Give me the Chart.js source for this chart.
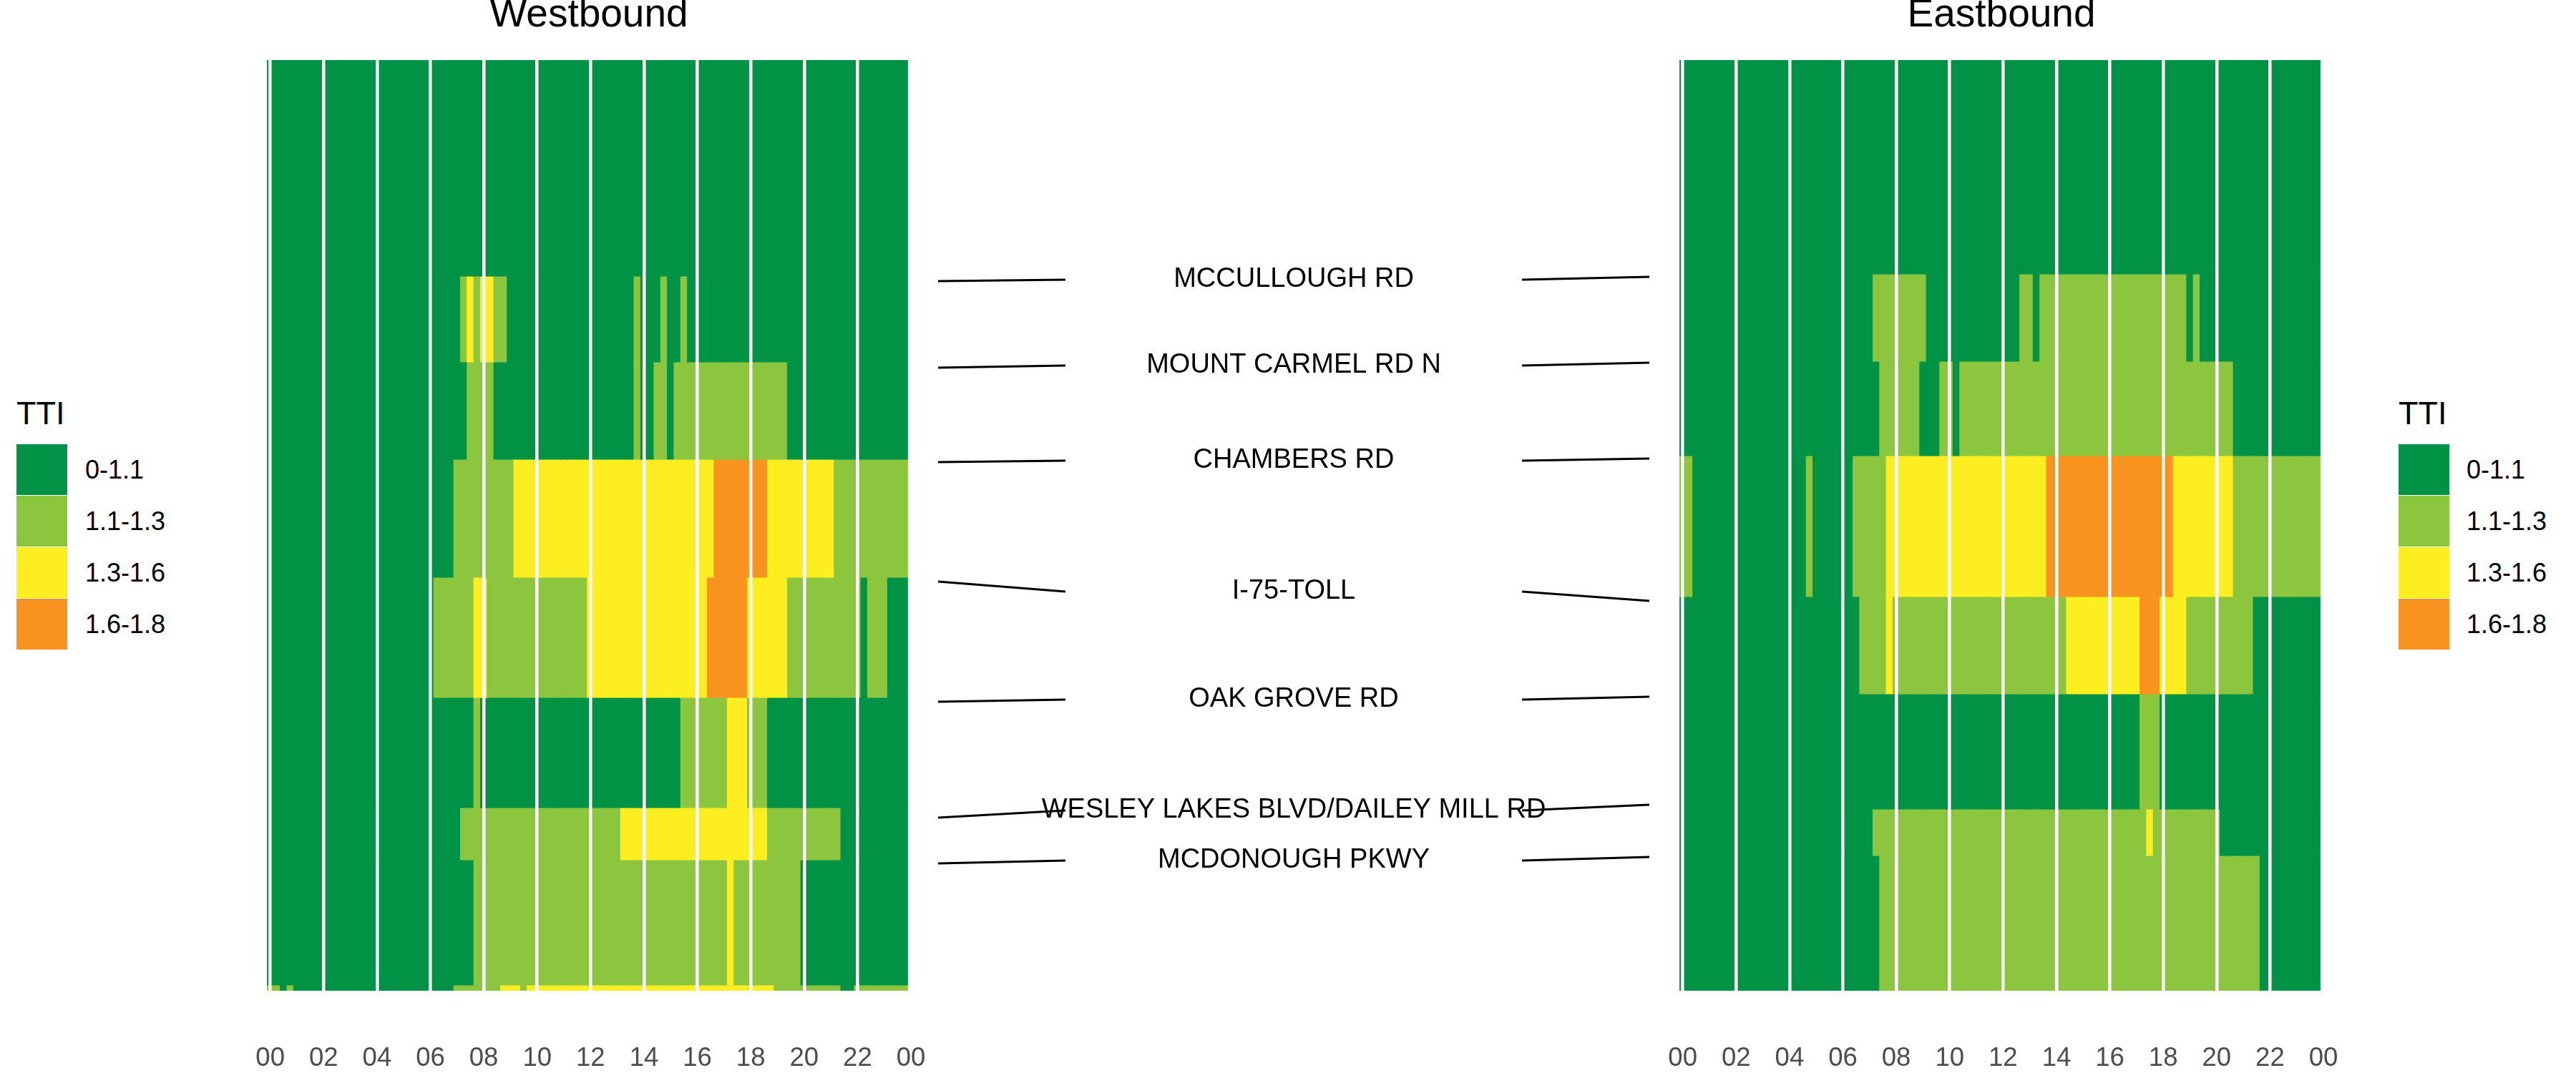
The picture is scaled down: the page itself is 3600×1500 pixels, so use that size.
<!DOCTYPE html>
<html>
<head>
<meta charset="utf-8">
<script src="https://cdn.jsdelivr.net/npm/chart.js@4.4.0/dist/chart.umd.min.js"></script>
<style>
html,body{margin:0;padding:0;background:#fff;}
body{width:3600px;height:1500px;position:relative;overflow:hidden;font-family:"Liberation Sans",Arial,sans-serif;}
canvas{position:absolute;top:0;}
.ttl{position:absolute;font-size:45px;line-height:44px;height:44px;color:#000;white-space:nowrap;}
.box{position:absolute;width:71px;height:71px;}
.lab{position:absolute;font-size:36px;line-height:71px;height:71px;color:#000;white-space:nowrap;}
</style>
</head>
<body>
<canvas id="west" width="980" height="1500" style="left:333px"></canvas>
<canvas id="mid" width="1074" height="1500" style="left:1271px"></canvas>
<canvas id="east" width="980" height="1500" style="left:2307px"></canvas>
<div id="legL"></div>
<div id="legR"></div>
<script>
const FONT = '"Liberation Sans", Arial, sans-serif';

// ---- time axis: 96 fifteen-minute bins (hours of day) ----
const binHours = Array.from({length: 96}, (_, i) => i * 0.25);
const tickHours = [0, 2, 4, 6, 8, 10, 12, 14, 16, 18, 20, 22, 24];

// ---- TTI classes ----
const ttiLabels = ['0-1.1', '1.1-1.3', '1.3-1.6', '1.6-1.8'];
const ttiColors = ['#009245', '#8CC63F', '#FCEE21', '#F7931E'];

// ---- Westbound: segment boundaries along corridor (distance units) ----
const westSegBounds = [0, 3.02, 4.22, 5.58, 7.23, 8.91, 10.45, 11.18, 12.93, 13.01];
// TTI class per 15-min bin (0..3), groups of 8 bins = 2 hours
const westTTI = [
  "00000000 00000000 00000000 00000000 00000000 00000000 00000000 00000000 00000000 00000000 00000000 00000000",
  "00000000 00000000 00000000 00000121 22110000 00000000 00000001 00010010 00000000 00000000 00000000 00000000",
  "00000000 00000000 00000000 00000011 11000000 00000000 00000001 00110111 11111111 11111100 00000000 00000000",
  "00000000 00000000 00000000 00001111 11111222 22222222 22222222 22222222 22233333 33322222 22222111 11111111",
  "00000000 00000000 00000000 01111112 21111111 11111111 22222222 22222222 22333333 22222211 11111111 10111000",
  "00000000 00000000 00000000 00000001 00000000 00000000 00000000 00000011 11111222 11100000 00000000 00000000",
  "00000000 00000000 00000000 00000111 11111111 11111111 11111222 22222222 22222222 22211111 11111100 00000000",
  "00000000 00000000 00000000 00000001 11111111 11111111 11111111 11111111 11111211 11111111 00000000 00000000",
  "11010000 00000000 00000000 00001111 11122212 22222222 22222222 22222222 22222222 22221111 11111100 11111111"
];

// ---- Eastbound ----
const eastSegBounds = [0, 2.99, 4.21, 5.53, 7.50, 8.86, 10.47, 11.12, 13.01];
const eastTTI = [
  "00000000 00000000 00000000 00000000 00000000 00000000 00000000 00000000 00000000 00000000 00000000 00000000",
  "00000000 00000000 00000000 00000111 11111000 00000000 00011011 11111111 11111111 11110100 00000000 00000000",
  "00000000 00000000 00000000 00000011 11110001 10111111 11111111 11111111 11111111 11111111 11100000 00000000",
  "11000000 00000000 00010000 00111112 22222222 22222222 22222223 33333333 33333333 33222222 22211111 11111111",
  "00000000 00000000 00000000 00011112 11111111 11111111 11111111 11222222 22222333 22221111 11111100 00000000",
  "00000000 00000000 00000000 00000000 00000000 00000000 00000000 00000000 00000111 00000000 00000000 00000000",
  "00000000 00000000 00000000 00000111 11111111 11111111 11111111 11111111 11111121 11111111 10000000 00000000",
  "00000000 00000000 00000000 00000011 11111111 11111111 11111111 11111111 11111111 11111111 11111110 00000000"
];

// ---- Cross streets (middle labels) ----
const roads = ['MCCULLOUGH RD', 'MOUNT CARMEL RD N', 'CHAMBERS RD', 'I-75-TOLL', 'OAK GROVE RD',
               'WESLEY LAKES BLVD/DAILEY MILL RD', 'MCDONOUGH PKWY'];
const roadWestPos  = [3.09, 4.30, 5.62, 7.29, 8.97, 10.59, 11.23];
const roadLabelPos = [3.07, 4.27, 5.60, 7.43, 8.94, 10.49, 11.19];
const roadEastPos  = [3.03, 4.23, 5.57, 7.56, 8.90, 10.41, 11.14];

const corridorEnd = 13.01;
const leaderReach = 0.179;

Chart.defaults.font.family = FONT;

function panelChart(id, title, bounds, rows) {
  const datasets = rows.map((row, r) => {
    const cls = row.replace(/\s/g, '').split('').map(Number);
    return {
      data: cls.map((c, i) => ({x: binHours[i], y: [bounds[r], bounds[r + 1]]})),
      backgroundColor: cls.map(c => ttiColors[c]),
      borderWidth: 0,
      grouped: false,
      barPercentage: 1,
      categoryPercentage: 1,
      inflateAmount: 0.5
    };
  });
  return new Chart(document.getElementById(id), {
    type: 'bar',
    data: {datasets},
    options: {
      responsive: false,
      animation: false,
      devicePixelRatio: 1,
      layout: {padding: {left: 40, right: 40, top: 0, bottom: 0}},
      plugins: {
        legend: {display: false},
        tooltip: {enabled: false},
        title: {
          display: true, text: title, color: '#000',
          font: {family: FONT, size: 55, weight: 'normal', lineHeight: 0.8},
          padding: {top: 0, bottom: 40}
        }
      },
      scales: {
        x: {
          type: 'linear', min: -0.125, max: 24, offset: false,
          afterBuildTicks: s => { s.ticks = tickHours.map(v => ({value: v})); },
          afterFit: s => { s.height = 115; },
          grid: {color: '#ffffff', lineWidth: 4.5, drawTicks: true, tickLength: 73,
                 tickColor: 'rgba(0,0,0,0)', offset: false, z: 1},
          border: {display: false},
          ticks: {
            color: '#4d4d4d', font: {family: FONT, size: 36.5}, padding: 0,
            maxRotation: 0, autoSkip: false,
            callback: v => String(v % 24).padStart(2, '0')
          }
        },
        y: {type: 'linear', min: 0, max: corridorEnd, reverse: true, display: false}
      }
    }
  });
}

panelChart('west', 'Westbound', westSegBounds, westTTI);
panelChart('east', 'Eastbound', eastSegBounds, eastTTI);

const roadLabelPlugin = {
  id: 'roadLabels',
  afterDatasetsDraw(chart) {
    const {ctx, scales: {x, y}} = chart;
    ctx.save();
    ctx.font = '38px ' + FONT;
    ctx.fillStyle = '#000';
    ctx.textAlign = 'center';
    ctx.textBaseline = 'middle';
    roads.forEach((r, i) => ctx.fillText(r, x.getPixelForValue(0.5), y.getPixelForValue(roadLabelPos[i])));
    ctx.restore();
  }
};

new Chart(document.getElementById('mid'), {
  type: 'line',
  data: {
    datasets: roads.map((r, i) => ({
      label: r,
      data: [
        {x: 0, y: roadWestPos[i]},
        {x: leaderReach, y: roadLabelPos[i]},
        {x: 0.5, y: null},
        {x: 1 - leaderReach, y: roadLabelPos[i]},
        {x: 1, y: roadEastPos[i]}
      ],
      borderColor: '#000', borderWidth: 3, pointRadius: 0, spanGaps: false, fill: false, tension: 0
    }))
  },
  options: {
    responsive: false, animation: false, devicePixelRatio: 1,
    layout: {padding: {left: 40, right: 40, top: 84, bottom: 115}},
    plugins: {legend: {display: false}, tooltip: {enabled: false}},
    scales: {
      x: {type: 'linear', min: 0, max: 1, display: false},
      y: {type: 'linear', min: 0, max: corridorEnd, reverse: true, display: false}
    }
  },
  plugins: [roadLabelPlugin]
});

// ---- legends (left & right) ----
function buildLegend(el, x0, labelX) {
  let html = `<div class="ttl" style="left:${x0}px;top:556px">TTI</div>`;
  const tops = [621, 693, 765, 837];
  ttiLabels.forEach((l, i) => {
    html += `<div class="box" style="left:${x0}px;top:${tops[i]}px;background:${ttiColors[i]}"></div>`;
    html += `<div class="lab" style="left:${labelX}px;top:${tops[i]}px">${l}</div>`;
  });
  document.getElementById(el).innerHTML = html;
}
buildLegend('legL', 23, 119);
buildLegend('legR', 3352, 3447);
</script>
</body>
</html>
